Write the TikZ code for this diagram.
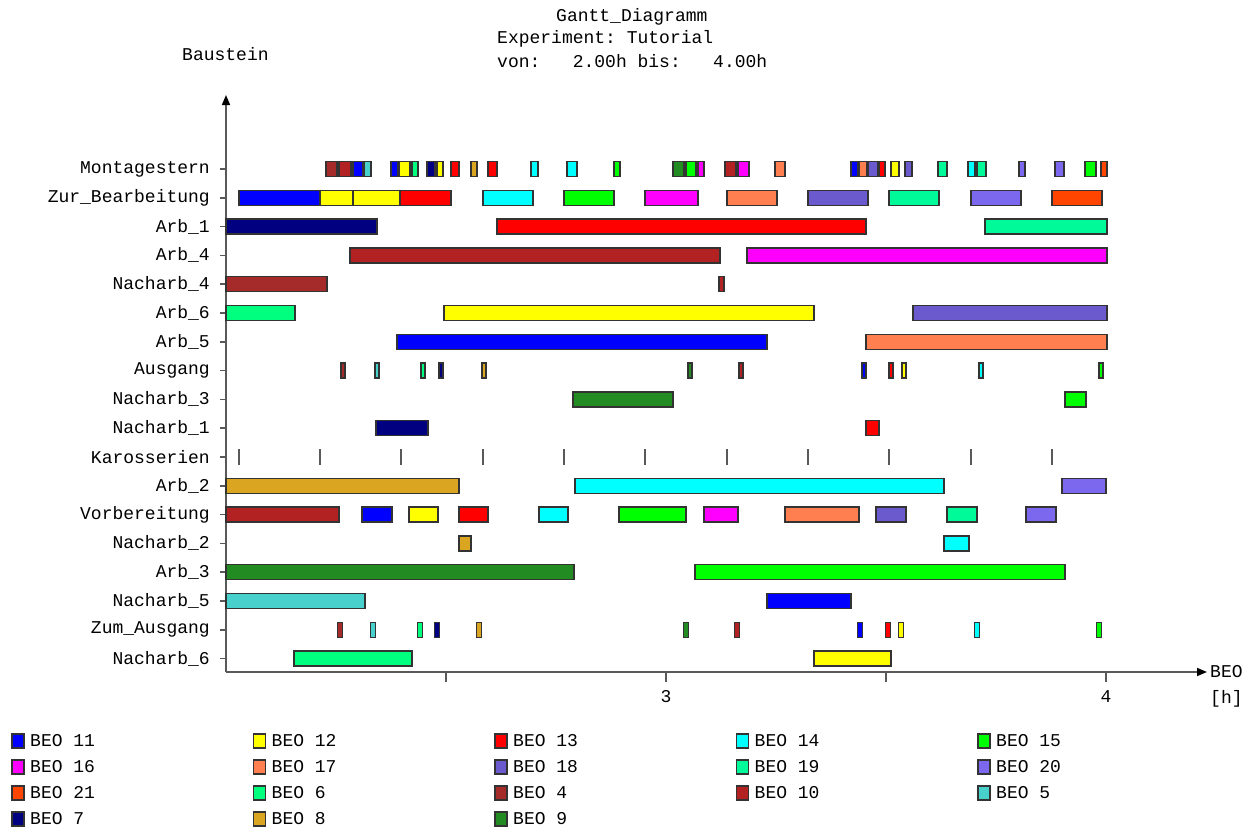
\documentclass[tikz,border=0pt]{standalone}
\usepackage{fontspec}
\setmainfont{Liberation Mono}
\usepackage{tikz}
\usetikzlibrary{arrows.meta, positioning}
\frenchspacing

% colours of the BEO jobs
\definecolor{beo4}{HTML}{A52A2A}
\definecolor{beo5}{HTML}{48D1CC}
\definecolor{beo6}{HTML}{00FF7F}
\definecolor{beo7}{HTML}{000080}
\definecolor{beo8}{HTML}{DAA520}
\definecolor{beo9}{HTML}{228B22}
\definecolor{beo10}{HTML}{B22222}
\definecolor{beo11}{HTML}{0000FF}
\definecolor{beo12}{HTML}{FFFF00}
\definecolor{beo13}{HTML}{FF0000}
\definecolor{beo14}{HTML}{00FFFF}
\definecolor{beo15}{HTML}{00FF00}
\definecolor{beo16}{HTML}{FF00FF}
\definecolor{beo17}{HTML}{FF7F50}
\definecolor{beo18}{HTML}{6A5ACD}
\definecolor{beo19}{HTML}{00FA9A}
\definecolor{beo20}{HTML}{7B68EE}
\definecolor{beo21}{HTML}{FF4500}

% bar in row #1 from #2 to #3
\newcommand{\beo}[4]{\draw[barbox, fill=#4] (#2, {169+28.8*#1-7.5}) rectangle (#3, {169+28.8*#1+7.5});}

\begin{document}
\begin{tikzpicture}[
    x=1pt, y=-1pt,
    every node/.style={font=\fontsize{18}{20}\selectfont, inner sep=0pt},
    barbox/.style={draw=black!80, line width=1.3pt},
    axisline/.style={draw=black!65, line width=1.5pt},
    arrow/.style={-{Triangle[length=10pt, width=8pt, black]}},
    rowlabel/.style={anchor=east},
    karo/.style={draw=black!65, line width=1.3pt}
]
    \useasboundingbox (0,0) rectangle (1251,827);

    % titles
    \node[anchor=west] (title)      at (556,17) {Gantt\_Diagramm};
    \node[anchor=west] (experiment) at (497,39) {Experiment: Tutorial};
    \node[anchor=west] (range)      at (497,61) {von:\ \ \ 2.00h bis:\ \ \ 4.00h};
    \node[anchor=west] (ylabel)     at (182,54) {Baustein};

    % rows
    \foreach \name [count=\i from 0] in {Montagestern, Zur\_Bearbeitung, Arb\_1, Arb\_4, Nacharb\_4, Arb\_6, Arb\_5, Ausgang, Nacharb\_3, Nacharb\_1, Karosserien, Arb\_2, Vorbereitung, Nacharb\_2, Arb\_3, Nacharb\_5, Zum\_Ausgang, Nacharb\_6} {
        \node[rowlabel] (row\i) at (210, {169+28.8*\i}) {\name};
        \draw[axisline] (220, {169+28.8*\i}) -- (226, {169+28.8*\i});
    }

    % axes
    \coordinate (origin) at (226,672);
    \coordinate (ytop) at (226,95);
    \coordinate (xend) at (1207,672);
    \draw[axisline, arrow] (origin) -- (ytop);
    \draw[axisline, arrow] (origin) -- (xend);
    \foreach \x in {446, 666, 886, 1106}
        \draw[axisline] (\x,672) -- (\x,682);
    \node (xthree) at (666,697) {3};
    \node (xfour)  at (1106,697) {4};
    \node[anchor=west] (xlabel) at (1210,672) {BEO};
    \node[anchor=west] (xunit)  at (1210,699) {[h]};

    % Montagestern
    \foreach \a/\b/\col in {326/337/beo4, 339/351/beo10, 353/363/beo11, 364/371/beo5, 391/398/beo11, 399/410/beo12, 412/418/beo6, 427/435/beo7, 437/443/beo12, 451/459/beo13, 471/477/beo8, 488/497/beo13, 531/538/beo14, 567/577/beo14, 614/620/beo15, 673/684/beo9, 686/696/beo15, 698/704/beo16, 725/736/beo10, 738/749/beo16, 775/785/beo17, 851/858/beo11, 859/867/beo17, 868/878/beo18, 879/885/beo13, 891/899/beo12, 905/912/beo18, 938/947/beo19, 968/975/beo14, 977/986/beo19, 1019/1025/beo20, 1055/1064/beo20, 1085/1096/beo15, 1101/1107/beo21}
        \beo{0}{\a}{\b}{\col};

    % Zur_Bearbeitung
    \foreach \a/\b/\col in {239/320/beo11, 320/353/beo12, 353/400/beo12, 400/451/beo13, 483/533/beo14, 564/614/beo15, 645/698/beo16, 727/777/beo17, 808/868/beo18, 889/939/beo19, 971/1021/beo20, 1052/1102/beo21}
        \beo{1}{\a}{\b}{\col};

    \beo{2}{226}{377}{beo7}  \beo{2}{497}{866}{beo13}  \beo{2}{985}{1107}{beo19}
    \beo{3}{350}{720}{beo10} \beo{3}{747}{1107}{beo16}
    \beo{4}{226}{327}{beo4}  \beo{4}{719}{724}{beo10}
    \beo{5}{226}{295}{beo6}  \beo{5}{444}{814}{beo12}  \beo{5}{913}{1107}{beo18}
    \beo{6}{397}{767}{beo11} \beo{6}{866}{1107}{beo17}

    % Ausgang
    \foreach \c/\col in {343/beo4, 377/beo5, 423/beo6, 441/beo7, 484/beo8, 690/beo9, 741/beo10, 864/beo11, 891/beo13, 904/beo12, 981/beo14, 1101/beo15}
        \beo{7}{\c-2}{\c+2}{\col};

    \beo{8}{573}{673}{beo9}  \beo{8}{1065}{1086}{beo15}
    \beo{9}{376}{428}{beo7}  \beo{9}{866}{879}{beo13}

    % Karosserien
    \foreach \x in {239, 320, 401, 483, 564, 645, 727, 808, 889, 971, 1052}
        \draw[karo] (\x,449) -- (\x,465);

    \beo{11}{226}{459}{beo8} \beo{11}{575}{944}{beo14} \beo{11}{1062}{1106}{beo20}

    % Vorbereitung
    \foreach \a/\b/\col in {226/339/beo10, 362/392/beo11, 409/438/beo12, 459/488/beo13, 539/568/beo14, 619/686/beo15, 704/738/beo16, 785/859/beo17, 876/906/beo18, 947/977/beo19, 1026/1056/beo20}
        \beo{12}{\a}{\b}{\col};

    \beo{13}{459}{471}{beo8} \beo{13}{944}{969}{beo14}
    \beo{14}{226}{574}{beo9} \beo{14}{695}{1065}{beo15}
    \beo{15}{226}{365}{beo5} \beo{15}{767}{851}{beo11}

    % Zum_Ausgang
    \foreach \c/\col in {340/beo4, 373/beo5, 420/beo6, 437/beo7, 479/beo8, 686/beo9, 737/beo10, 860/beo11, 888/beo13, 901/beo12, 977/beo14, 1099/beo15}
        \beo{16}{\c-2.5}{\c+2.5}{\col};

    \beo{17}{294}{412}{beo6} \beo{17}{814}{891}{beo12}

    % legend
    \foreach \num [count=\k from 0] in {11,12,13,14,15,16,17,18,19,20,21,6,4,10,5,7,8,9} {
        \pgfmathtruncatemacro{\col}{mod(\k,5)}
        \pgfmathtruncatemacro{\row}{\k/5}
        \draw[barbox, fill=beo\num] ({12+241.5*\col}, {741+26*\row-7}) rectangle ({24+241.5*\col}, {741+26*\row+7});
        \node[anchor=west] (leg\num) at ({30+241.5*\col}, {741+26*\row}) {BEO \num};
    }
\end{tikzpicture}
\end{document}
